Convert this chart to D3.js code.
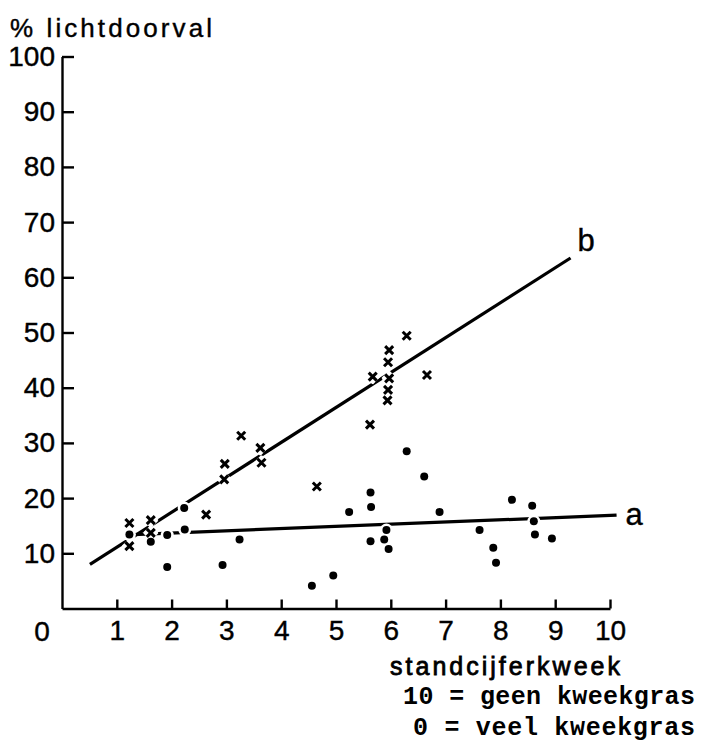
<!DOCTYPE html>
<html>
<head>
<meta charset="utf-8">
<script src="https://cdn.jsdelivr.net/npm/d3@7"></script>
<style>
  body { margin: 0; background: #fff; }
  .axis path, .axis line { stroke: #000; stroke-width: 2.4; }
  .axis text { font-family: "Liberation Sans", Arial, sans-serif; font-size: 28px; fill: #000; stroke: #000; stroke-width: 0.4; }
  .lbl { font-family: "Liberation Sans", Arial, sans-serif; fill: #000; stroke: #000; stroke-width: 0.4; }
  .note { font-family: "Liberation Mono", "Courier New", monospace; font-weight: bold; font-size: 25px; fill: #000; }
</style>
</head>
<body>
<div id="chart"></div>
<script>
// standcijfer kweek (x) tegen % lichtdoorval (y)
const crossX = [1.23, 1.23, 1.62, 1.62, 2.63, 2.96, 2.97, 3.27, 3.62, 3.64, 4.65, 5.62, 5.67, 5.97, 5.95, 5.97, 5.95, 5.94, 6.29, 6.66];
const crossY = [15.5, 11.3, 16.0, 13.7, 17.0, 23.4, 26.2, 31.3, 29.1, 26.4, 22.1, 33.3, 42.0, 46.8, 44.6, 41.7, 39.6, 37.7, 49.4, 42.3];

const dotX = [1.23, 1.62, 1.92, 1.92, 2.23, 2.24, 2.93, 3.24, 4.56, 4.95, 5.24, 5.63, 5.64, 5.63, 5.92, 5.88, 5.96, 6.29, 6.61, 6.89, 7.62, 7.87, 7.92, 8.21, 8.58, 8.61, 8.63, 8.94];
const dotY = [13.4, 12.1, 13.3, 7.5, 18.2, 14.3, 7.9, 12.5, 4.1, 6.0, 17.5, 21.0, 18.4, 12.2, 14.2, 12.5, 10.8, 28.5, 23.9, 17.5, 14.2, 11.0, 8.3, 19.7, 18.6, 15.8, 13.4, 12.7];

// regressielijnen a en b (begin- en eindpunt)
const lineAX = [1.3, 10.12];
const lineAY = [13.4, 16.9];
const lineBX = [0.51, 9.28];
const lineBY = [8.0, 63.5];

const xTicks = [1, 2, 3, 4, 5, 6, 7, 8, 9, 10];
const yTicks = [10, 20, 30, 40, 50, 60, 70, 80, 90, 100];

let width = 709;
let height = 742;

let xScale = d3.scaleLinear().domain([0, 10]).range([62, 610]);
let yScale = d3.scaleLinear().domain([0, 100]).range([608.5, 56.5]);

let svg = d3.select("#chart").append("svg")
  .attr("width", width)
  .attr("height", height);

//axes
svg.append("g")
  .attr("class", "axis")
  .attr("transform", `translate(${xScale(0)},0)`)
  .call(d3.axisLeft(yScale).tickValues(yTicks).tickSizeInner(-12).tickSizeOuter(0).tickPadding(7));

svg.append("g")
  .attr("class", "axis")
  .attr("transform", `translate(0,${yScale(0)})`)
  .call(d3.axisBottom(xScale).tickValues(xTicks).tickSizeInner(-9).tickSizeOuter(0).tickPadding(12));

svg.append("text")
  .attr("class", "lbl")
  .attr("x", xScale(0) - 20)
  .attr("y", yScale(0) + 32)
  .attr("text-anchor", "middle")
  .style("font-size", "28px")
  .text("0");

//lines
let line = d3.line().x(d => xScale(d[0])).y(d => yScale(d[1]));
svg.append("path")
  .attr("d", line(d3.zip(lineAX, lineAY)))
  .attr("fill", "none").attr("stroke", "#000").attr("stroke-width", 3.2);
svg.append("path")
  .attr("d", line(d3.zip(lineBX, lineBY)))
  .attr("fill", "none").attr("stroke", "#000").attr("stroke-width", 3.2);

let crosses = d3.zip(crossX, crossY);
let dots = d3.zip(dotX, dotY);
let xPath = "M-4,-4L4,4M-4,4L4,-4";

// white halo so the lines break around the marks
svg.selectAll(".haloX").data(crosses).enter().append("path")
  .attr("transform", d => `translate(${xScale(d[0])},${yScale(d[1])})`)
  .attr("d", xPath).attr("stroke", "#fff").attr("stroke-width", 10);
svg.selectAll(".haloD").data(dots).enter().append("circle")
  .attr("cx", d => xScale(d[0])).attr("cy", d => yScale(d[1]))
  .attr("r", 6.5).attr("fill", "#fff");

svg.selectAll(".cross").data(crosses).enter().append("path")
  .attr("class", "cross")
  .attr("transform", d => `translate(${xScale(d[0])},${yScale(d[1])})`)
  .attr("d", xPath).attr("stroke", "#000").attr("stroke-width", 3);
svg.selectAll(".dot").data(dots).enter().append("circle")
  .attr("class", "dot")
  .attr("cx", d => xScale(d[0])).attr("cy", d => yScale(d[1]))
  .attr("r", 4).attr("fill", "#000");

//line labels
svg.append("text").attr("class", "lbl")
  .attr("x", xScale(lineBX[1]) + 7).attr("y", yScale(lineBY[1]) - 7)
  .style("font-size", "31px").text("b");
svg.append("text").attr("class", "lbl")
  .attr("x", xScale(lineAX[1]) + 9).attr("y", yScale(lineAY[1]) + 10)
  .style("font-size", "31px").text("a");

//titles
svg.append("text").attr("class", "lbl")
  .attr("x", 10).attr("y", 37)
  .attr("textLength", 202).attr("lengthAdjust", "spacing")
  .style("font-size", "26px").text("% lichtdoorval");
svg.append("text").attr("class", "lbl")
  .attr("x", 390).attr("y", 675)
  .attr("textLength", 230).attr("lengthAdjust", "spacing")
  .style("font-size", "25px").style("stroke-width", "0.8").text("standcijferkweek");
svg.append("text").attr("class", "note")
  .attr("x", 403).attr("y", 704)
  .attr("textLength", 292).attr("lengthAdjust", "spacing")
  .text("10 = geen kweekgras");
svg.append("text").attr("class", "note")
  .attr("x", 413).attr("y", 735)
  .attr("textLength", 282).attr("lengthAdjust", "spacing")
  .text("0 = veel kweekgras");
</script>
</body>
</html>
